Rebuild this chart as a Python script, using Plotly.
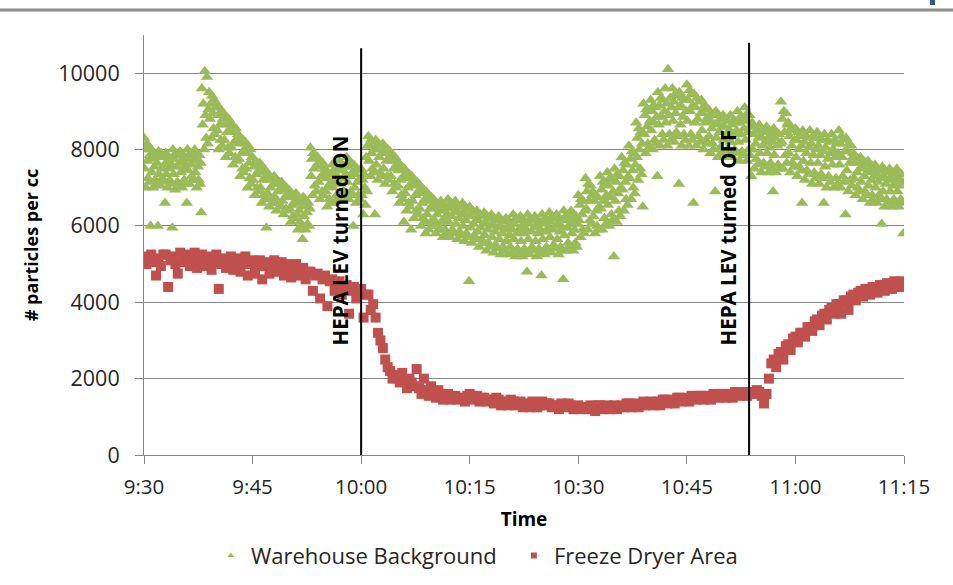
import plotly.graph_objects as go

# ---------------- data ----------------
# Time is expressed as minutes after 9:30.
tick_minutes = [0, 15, 30, 45, 60, 75, 90, 105]
tick_labels = ["9:30", "9:45", "10:00", "10:15", "10:30", "10:45", "11:00", "11:15"]
y_ticks = [0, 2000, 4000, 6000, 8000, 10000]
y_tick_labels = ["0", "2000", "4000", "6000", "8000", "10000"]

# Warehouse Background: 10 readings per minute (every 6 s), one row per minute;
# an 11th value in a row is an isolated low reading in that minute
warehouse = [
    [8300, 7500, 8000, 7000, 8150, 7700, 7250, 8100, 7150, 7850, 6000],
    [8000, 7400, 7750, 7000, 7900, 7550, 7200, 7850, 7100, 7650, 6000],
    [7950, 7350, 7800, 7050, 7900, 7500, 7250, 7800, 7150, 7600, 6600],
    [7900, 7350, 7650, 7000, 7800, 7500, 7200, 7750, 7100, 7600, 5950],
    [8000, 7350, 7750, 6950, 7900, 7550, 7150, 7850, 7050, 7650],
    [7950, 7400, 7700, 7000, 7850, 7500, 7200, 7800, 7100, 7600, 6600],
    [8000, 7450, 7750, 7100, 7900, 7600, 7300, 7850, 7200, 7700],
    [8000, 7400, 7750, 7000, 7900, 7550, 7200, 7850, 7100, 7650, 6350],
    [9600, 8650, 9200, 8000, 10050, 8900, 8300, 9900, 8150, 9050],
    [9500, 8800, 9200, 8300, 9400, 8950, 8550, 9300, 8400, 9100],
    [9200, 8500, 8900, 8000, 9100, 8650, 8250, 9000, 8100, 8800],
    [8950, 8250, 8650, 7800, 8850, 8450, 8050, 8800, 7900, 8550],
    [8700, 8050, 8450, 7600, 8600, 8200, 7800, 8550, 7700, 8300],
    [8400, 7750, 8150, 7300, 8300, 7900, 7500, 8250, 7400, 8000],
    [8200, 7500, 7900, 7000, 8100, 7650, 7250, 8000, 7100, 7800],
    [7800, 7200, 7550, 6800, 7700, 7350, 7000, 7650, 6900, 7450],
    [7650, 7000, 7400, 6600, 7550, 7200, 6800, 7500, 6700, 7300, 5950],
    [7400, 6850, 7200, 6500, 7300, 7000, 6700, 7250, 6600, 7100],
    [7300, 6750, 7100, 6400, 7200, 6900, 6600, 7150, 6500, 7000],
    [7150, 6650, 6950, 6300, 7050, 6750, 6450, 7000, 6400, 6850],
    [6950, 6450, 6750, 6100, 6850, 6550, 6250, 6800, 6200, 6650],
    [6850, 6300, 6600, 5900, 6750, 6400, 6100, 6700, 6000, 6500, 5650],
    [6750, 6250, 6550, 5900, 6650, 6350, 6050, 6600, 6000, 6450],
    [8050, 7300, 7750, 6800, 7900, 7500, 7050, 7850, 6900, 7600],
    [7800, 7150, 7550, 6700, 7700, 7300, 6900, 7650, 6800, 7400],
    [7500, 6900, 7250, 6500, 7400, 7050, 6700, 7350, 6600, 7150],
    [7600, 7000, 7350, 6600, 7500, 7150, 6800, 7450, 6700, 7250],
    [7700, 7100, 7450, 6700, 7600, 7250, 6900, 7550, 6800, 7350],
    [7800, 7150, 7550, 6700, 7700, 7300, 6900, 7650, 6800, 7400, 6000],
    [7600, 7000, 7350, 6600, 7500, 7150, 6800, 7450, 6700, 7250],
    [7500, 6800, 7200, 6300, 7350, 7000, 6550, 7800, 6900, 8100],
    [8350, 7700, 8100, 7300, 8250, 7900, 7500, 8200, 7400, 8000, 6300],
    [8250, 7600, 8000, 7200, 8150, 7800, 7400, 8100, 7300, 7900],
    [8150, 7500, 7900, 7100, 8050, 7700, 7300, 8000, 7200, 7800],
    [7950, 7300, 7700, 6900, 7850, 7500, 7100, 7800, 7000, 7600],
    [7700, 7050, 7450, 6600, 7600, 7200, 6800, 7550, 6700, 7300, 6100],
    [7500, 6850, 7250, 6400, 7400, 7000, 6600, 7350, 6500, 7100, 5900],
    [7300, 6650, 7050, 6200, 7200, 6800, 6400, 7150, 6300, 6900],
    [7100, 6450, 6850, 6000, 7000, 6600, 6200, 6950, 6100, 6700, 5800],
    [6900, 6300, 6650, 5900, 6800, 6450, 6100, 6750, 6000, 6550],
    [6700, 6150, 6450, 5800, 6600, 6300, 6000, 6550, 5900, 6400],
    [6650, 6100, 6400, 5700, 6550, 6200, 5900, 6500, 5800, 6300],
    [6700, 6100, 6450, 5700, 6600, 6250, 5900, 6550, 5800, 6350],
    [6650, 6050, 6400, 5650, 6550, 6200, 5850, 6500, 5750, 6300],
    [6600, 6000, 6350, 5600, 6500, 6150, 5800, 6450, 5700, 6250, 4550],
    [6500, 5950, 6250, 5550, 6400, 6050, 5750, 6350, 5650, 6150],
    [6400, 5850, 6150, 5450, 6300, 5950, 5650, 6250, 5550, 6050],
    [6350, 5750, 6100, 5350, 6250, 5900, 5550, 6200, 5450, 6000],
    [6300, 5700, 6050, 5300, 6200, 5850, 5500, 6150, 5400, 5950],
    [6250, 5650, 6000, 5250, 6150, 5800, 5450, 6100, 5350, 5900],
    [6200, 5600, 5950, 5250, 6150, 5750, 5450, 6050, 5300, 5900],
    [6300, 5650, 6050, 5200, 6200, 5800, 5400, 6150, 5300, 5900],
    [6250, 5600, 6000, 5200, 6150, 5800, 5400, 6100, 5300, 5900, 4800],
    [6300, 5650, 6050, 5250, 6200, 5850, 5450, 6150, 5350, 5950],
    [6250, 5600, 6000, 5200, 6150, 5800, 5400, 6100, 5300, 5900, 4700],
    [6300, 5650, 6050, 5250, 6200, 5850, 5450, 6150, 5350, 5950],
    [6350, 5700, 6100, 5300, 6250, 5900, 5500, 6200, 5400, 6000],
    [6300, 5650, 6050, 5250, 6200, 5850, 5450, 6150, 5350, 5950, 4600],
    [6400, 5750, 6150, 5350, 6300, 5950, 5550, 6250, 5450, 6050],
    [6400, 5800, 6150, 5350, 6300, 5900, 5550, 6250, 5450, 6050],
    [6800, 6150, 6550, 5700, 6700, 6300, 5900, 6650, 5800, 6400],
    [7250, 6450, 6900, 5900, 7100, 6650, 6150, 7050, 6050, 6800],
    [6900, 6250, 6650, 5800, 6800, 6400, 6000, 6750, 5900, 6500],
    [7300, 6450, 6950, 5900, 7150, 6650, 6200, 7100, 6050, 6800],
    [7400, 6550, 7050, 6000, 7250, 6750, 6300, 7200, 6150, 6900, 5200],
    [7500, 6650, 7150, 6100, 7350, 6850, 6400, 7300, 6250, 7000],
    [7800, 6950, 7450, 6400, 7650, 7150, 6700, 7600, 6550, 7300],
    [8100, 7250, 7750, 6700, 7950, 7450, 7000, 7900, 6850, 7600],
    [8700, 7800, 8300, 7200, 8550, 8000, 7500, 8450, 7350, 8150, 6500],
    [9200, 8400, 8900, 7900, 9050, 8600, 8150, 9000, 8050, 8750],
    [9300, 8500, 9000, 8000, 9150, 8700, 8250, 9100, 8150, 8850, 7300],
    [9500, 8650, 9150, 8100, 9350, 8850, 8400, 9300, 8250, 9000],
    [9600, 8700, 9200, 8100, 10100, 8900, 8400, 9350, 8250, 9100],
    [9600, 8750, 9250, 8200, 9450, 8950, 8450, 9400, 8350, 9100, 7100],
    [9500, 8650, 9150, 8100, 9350, 8850, 8400, 9300, 8250, 9000],
    [9700, 8750, 9300, 8100, 9550, 9000, 8400, 9450, 8250, 9150, 6600],
    [9450, 8700, 9100, 8100, 9350, 8800, 8350, 9250, 8200, 8950],
    [9300, 8500, 8950, 8000, 9150, 8700, 8250, 9100, 8150, 8850],
    [9050, 8350, 8750, 7900, 8950, 8550, 8150, 8900, 8000, 8650, 6900],
    [9000, 8300, 8700, 7800, 8900, 8450, 8050, 8800, 7900, 8600],
    [8900, 8250, 8600, 7800, 8800, 8400, 8000, 8750, 7900, 8500],
    [8900, 8200, 8650, 7800, 8750, 8400, 8000, 8700, 7900, 8500],
    [9000, 8200, 8700, 7700, 8850, 8400, 7950, 8800, 7850, 8550],
    [9100, 8250, 8750, 7700, 8950, 8450, 8000, 8900, 7850, 8600, 7300],
    [8700, 8000, 8400, 7500, 8600, 8150, 7750, 8500, 7600, 8300],
    [8650, 7900, 8350, 7400, 8500, 8100, 7650, 8450, 7550, 8200],
    [8600, 7900, 8300, 7400, 8500, 8050, 7650, 8400, 7500, 8200, 6900],
    [8550, 7850, 8300, 7400, 8450, 8100, 7600, 8400, 7500, 8150],
    [9250, 8200, 8800, 7500, 9000, 8450, 7850, 8950, 7650, 8650],
    [8700, 7900, 8350, 7400, 8550, 8100, 7650, 8500, 7550, 8250],
    [8550, 7800, 8250, 7300, 8450, 8000, 7550, 8350, 7450, 8100, 6600],
    [8500, 7700, 8200, 7200, 8350, 7900, 7450, 8300, 7350, 8050],
    [8500, 7650, 8150, 7100, 8350, 7850, 7400, 8300, 7250, 8000],
    [8450, 7650, 8100, 7100, 8300, 7850, 7350, 8250, 7250, 7950, 6600],
    [8400, 7550, 8050, 7000, 8250, 7750, 7300, 8200, 7150, 7900],
    [8400, 7600, 8000, 7000, 8250, 7800, 7250, 8150, 7100, 7900],
    [8500, 7600, 8150, 7000, 8350, 7800, 7300, 8250, 7150, 7950, 6300],
    [8300, 7450, 7950, 6900, 8150, 7650, 7200, 8100, 7050, 7800],
    [7900, 7250, 7650, 6800, 7800, 7400, 7000, 7750, 6900, 7500],
    [7800, 7150, 7550, 6700, 7700, 7300, 6900, 7650, 6800, 7400],
    [7700, 7050, 7450, 6600, 7600, 7200, 6800, 7550, 6700, 7300],
    [7600, 7000, 7350, 6600, 7500, 7150, 6800, 7450, 6700, 7250, 6050],
    [7550, 6900, 7300, 6500, 7450, 7100, 6700, 7400, 6600, 7200],
    [7500, 6900, 7250, 6500, 7400, 7050, 6700, 7350, 6600, 7150],
    [7500, 6900, 7250, 6500, 7400, 7050, 6700, 7350, 6600, 7150, 5800],
]

# Freeze Dryer Area: 3 readings per minute (every 20 s), one row per minute
freeze_dryer = [
    [5200, 5000, 5100], [5250, 5050, 4700], [5150, 4950, 5250], [5250, 4400, 5100],
    [5200, 5000, 4750], [5300, 5050, 5150], [5250, 4950, 5150], [5300, 4900, 5100],
    [5250, 4950, 5100], [5200, 4850, 5050], [5250, 4350, 5000], [5150, 4900, 5050],
    [5200, 4850, 5000], [5150, 4800, 5050], [5200, 4700, 5000], [5100, 4750, 4950],
    [5100, 4600, 4950], [5050, 4750, 4900], [5100, 4800, 4950], [5050, 4700, 4900],
    [5000, 4650, 4850], [5000, 4700, 4850], [4900, 4600, 4800], [4800, 4300, 4700],
    [4750, 4100, 4600], [4700, 3900, 4550], [4600, 4300, 4450], [4550, 4200, 4400],
    [4450, 3700, 4300], [4400, 4100, 4250], [4350, 3600, 4200], [4200, 3800, 3950],
    [3600, 3200, 3000], [2800, 2500, 2300], [2200, 2000, 2100], [2000, 1900, 2150],
    [1950, 1750, 2000], [1900, 1800, 2250], [1750, 1600, 2000], [1700, 1550, 1800],
    [1650, 1500, 1700], [1600, 1450, 1550], [1600, 1450, 1500], [1550, 1450, 1500],
    [1500, 1400, 1550], [1600, 1450, 1500], [1550, 1400, 1500], [1500, 1400, 1450],
    [1450, 1350, 1500], [1450, 1300, 1400], [1400, 1300, 1450], [1400, 1300, 1350],
    [1400, 1250, 1350], [1350, 1250, 1400], [1350, 1250, 1300], [1400, 1300, 1350],
    [1350, 1250, 1300], [1300, 1200, 1350], [1300, 1250, 1350], [1300, 1200, 1250],
    [1300, 1200, 1250], [1250, 1200, 1300], [1250, 1150, 1300], [1300, 1200, 1250],
    [1300, 1200, 1250], [1300, 1200, 1250], [1300, 1250, 1350], [1350, 1250, 1300],
    [1350, 1250, 1300], [1400, 1300, 1350], [1400, 1300, 1350], [1400, 1300, 1450],
    [1450, 1350, 1400], [1450, 1350, 1500], [1500, 1400, 1450], [1500, 1400, 1550],
    [1500, 1450, 1550], [1550, 1450, 1500], [1550, 1450, 1600], [1550, 1500, 1600],
    [1600, 1500, 1550], [1600, 1500, 1650], [1650, 1550, 1600], [1650, 1550, 1600],
    [1650, 1600, 1700], [1650, 1550, 1350], [1600, 2000, 2400], [2500, 2300, 2650],
    [2700, 2500, 2850], [2900, 2750, 3050], [3100, 2950, 3200], [3200, 3100, 3350],
    [3350, 3250, 3500], [3550, 3400, 3650], [3700, 3550, 3800], [3850, 3700, 3950],
    [3950, 3700, 4050], [4050, 3800, 4150], [4200, 4050, 4250], [4300, 4150, 4350],
    [4350, 4200, 4400], [4400, 4250, 4450], [4450, 4300, 4500], [4450, 4350, 4550],
    [4500, 4400, 4550],
]

series_names = ["Warehouse Background", "Freeze Dryer Area"]
event_minutes = [30.0, 83.6]
event_labels = ["HEPA LEV turned ON", "HEPA LEV turned OFF"]
event_tops = [10650, 10800]

# ---------------- build series ----------------
def flatten(rows):
    xs, ys = [], []
    for m, row in enumerate(rows):
        n = len(row)
        for k, v in enumerate(row):
            xs.append(m + k / n)
            ys.append(v)
    return xs, ys

wx, wy = flatten(warehouse)
fx, fy = flatten(freeze_dryer)

GREEN = "#9BBB59"
RED = "#C0504D"
GRID = "#868686"
FONT = "Open Sans"
TXT = "#262626"

fig = go.Figure()
fig.add_trace(go.Scatter(
    x=wx, y=wy, mode="markers", name=series_names[0], showlegend=False,
    marker=dict(symbol="triangle-up", size=11, color=GREEN, line=dict(width=0)),
))
fig.add_trace(go.Scatter(
    x=fx, y=fy, mode="markers", name=series_names[1], showlegend=False,
    marker=dict(symbol="square", size=10, color=RED, line=dict(width=0)),
))
# legend entries (small symbols, as in the original legend)
fig.add_trace(go.Scatter(
    x=[None], y=[None], mode="markers", name=series_names[0],
    marker=dict(symbol="triangle-up", size=6, color=GREEN, line=dict(width=0)),
))
fig.add_trace(go.Scatter(
    x=[None], y=[None], mode="markers", name=series_names[1],
    marker=dict(symbol="square", size=6, color=RED, line=dict(width=0)),
))

shapes = []
annotations = []
for t, lab, top in zip(event_minutes, event_labels, event_tops):
    shapes.append(dict(type="line", xref="x", yref="y", x0=t, x1=t, y0=-120, y1=top,
                       line=dict(color="black", width=2), layer="above"))
    annotations.append(dict(x=t, y=2820, xref="x", yref="y", text=f"<b>{lab}</b>",
                            showarrow=False, textangle=-90, xanchor="right",
                            yanchor="bottom", xshift=-5,
                            font=dict(family=FONT, size=20.5, color="black")))

# slide header line and blue mark
shapes.append(dict(type="line", xref="paper", yref="paper", x0=-0.2, x1=1.1,
                   y0=1 + 25 / 420, y1=1 + 25 / 420, line=dict(color="#8C8C8C", width=3)))
shapes.append(dict(type="rect", xref="paper", yref="paper",
                   x0=(930 - 144) / 760, x1=(935 - 144) / 760,
                   y0=1 + 30 / 420, y1=1 + 35 / 420,
                   fillcolor="#2F5597", line=dict(width=0)))

fig.update_layout(
    width=953, height=585,
    margin=dict(l=144, r=49, t=35, b=130, autoexpand=False),
    paper_bgcolor="white", plot_bgcolor="white",
    font=dict(family=FONT, color=TXT),
    showlegend=True,
    legend=dict(orientation="h", x=0.088, y=-0.24, xanchor="left", yanchor="middle",
                font=dict(family=FONT, size=22, color=TXT),
                itemsizing="trace", tracegroupgap=0, itemwidth=30,
                entrywidth=258, entrywidthmode="pixels"),
    xaxis=dict(range=[0, 105], tickmode="array", tickvals=tick_minutes, ticktext=tick_labels,
               automargin=False,
               showgrid=False, zeroline=False, showline=True, linecolor=GRID, linewidth=1,
               ticks="outside", ticklen=8, tickcolor=GRID, ticklabelstandoff=5,
               tickfont=dict(family=FONT, size=20.5, color=TXT),
               title=dict(text="<b>Time</b>", font=dict(family=FONT, size=19, color="black"),
                          standoff=14)),
    yaxis=dict(range=[0, 11000], tickmode="array", tickvals=y_ticks, ticktext=y_tick_labels,
               automargin=False,
               showgrid=True, gridcolor=GRID, gridwidth=1, zeroline=False,
               showline=True, linecolor=GRID, linewidth=1,
               ticks="outside", ticklen=8, tickcolor=GRID, ticklabelstandoff=11,
               tickfont=dict(family=FONT, size=21.5, color=TXT),
               title=dict(text="<b># particles per cc</b>",
                          font=dict(family=FONT, size=18, color="black"), standoff=14)),
    shapes=shapes,
    annotations=annotations,
)

fig.write_html("out.html")
